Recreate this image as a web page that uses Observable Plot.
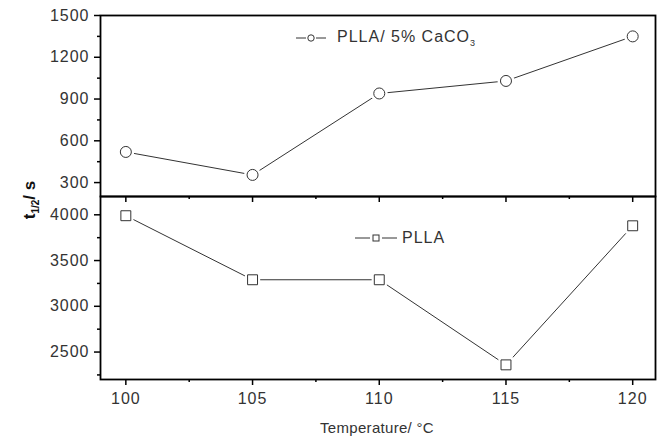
<!DOCTYPE html>
<html><head><meta charset="utf-8">
<script src="https://cdn.jsdelivr.net/npm/d3@7"></script>
<script src="https://cdn.jsdelivr.net/npm/@observablehq/plot@0.6"></script>
<style>
body{margin:0;background:#fff;font-family:"Liberation Sans",Arial,sans-serif;}
#wrap{position:relative;width:663px;height:438px;overflow:hidden;background:#fff;}
.panel{position:absolute;left:0;}
.panel svg text{letter-spacing:1px;}
.lbl{position:absolute;color:#333;white-space:nowrap;}
.leg{position:absolute;display:flex;align-items:center;color:#333;font-size:16px;letter-spacing:1px;white-space:nowrap;}
.leg sub{font-size:9px;vertical-align:-4px;}
#ytitle{left:30px;top:200px;transform:translate(-50%,-50%) rotate(-90deg);font-weight:bold;font-size:17px;color:#111;}
#ytitle sub{font-size:10px;font-weight:bold;vertical-align:-4px;}
#xtitle{left:377px;top:427px;transform:translate(-50%,-50%);font-size:15px;letter-spacing:0.3px;}
</style></head>
<body><div id="wrap">
<div class="panel" id="topPanel" style="top:0px"></div>
<div class="panel" id="botPanel" style="top:186px"></div>
<div class="lbl" id="ytitle">t<sub>1/2</sub>/ s</div>
<div class="lbl" id="xtitle">Temperature/ °C</div>
<div class="leg" style="left:295px;top:28px"><svg width="32" height="16"><line x1="1" y1="8" x2="11" y2="8" stroke="#333"/><circle cx="16" cy="8" r="3.2" fill="none" stroke="#333"/><line x1="21" y1="8" x2="31" y2="8" stroke="#333"/></svg><span style="margin-left:10px">PLLA/ 5% CaCO<sub>3</sub></span></div>
<div class="leg" style="left:355px;top:229px"><svg width="42" height="16"><line x1="0" y1="8" x2="15" y2="8" stroke="#333"/><rect x="18" y="5" width="6" height="6" fill="none" stroke="#333"/><line x1="27" y1="8" x2="42" y2="8" stroke="#333"/></svg><span style="margin-left:5px">PLLA</span></div>
</div>
<script>
const temperature = [100, 105, 110, 115, 120];
const pllaCaCO3 = [520, 355, 940, 1030, 1350];
const plla = [3990, 3290, 3290, 2360, 3880];
const xTicks = [100, 105, 110, 115, 120];
const xMinor = [102.5, 107.5, 112.5, 117.5];
const topTicks = [300, 600, 900, 1200, 1500];
const topMinor = [450, 750, 1050, 1350];
const botTicks = [2500, 3000, 3500, 4000];
const botMinor = [2250, 2750, 3250, 3750];

const topData = temperature.map((t, i) => ({t, v: pllaCaCO3[i]}));
const botData = temperature.map((t, i) => ({t, v: plla[i]}));

const common = {
  width: 663, marginLeft: 100, marginRight: 8,
  x: {domain: [99, 120.9]},
  style: {background: "transparent", overflow: "visible", fontFamily: "'Liberation Sans', Arial, sans-serif", fontSize: "16px", color: "#333"}
};
const noLab = () => "";
const plain = d => String(d);

function seriesMarks(data, symbol, r) {
  return [
    Plot.line(data, {x: "t", y: "v", stroke: "#333", strokeWidth: 1}),
    Plot.dot(data, {x: "t", y: "v", r: r + 3, symbol, fill: "white", stroke: null}),
    Plot.dot(data, {x: "t", y: "v", r, symbol, fill: "white", stroke: "#333", strokeWidth: 1})
  ];
}

const topPlot = Plot.plot({
  ...common,
  height: 206, marginTop: 15, marginBottom: 10,
  y: {domain: [200, 1500]},
  marks: [
    ...seriesMarks(topData, "circle", 5.5),
    Plot.axisY(topTicks, {tickSize: 6, tickPadding: 5, tickFormat: plain, strokeWidth: 1.5, stroke: "#000", fill: "#333", label: null}),
    Plot.axisY(topMinor, {tickSize: 3, tickFormat: noLab, strokeWidth: 1.5, stroke: "#000", label: null}),
    Plot.axisX(xTicks, {anchor: "bottom", tickSize: 6, tickFormat: noLab, strokeWidth: 1.5, stroke: "#000", label: null}),
    Plot.axisX(xMinor, {anchor: "bottom", tickSize: 3, tickFormat: noLab, strokeWidth: 1.5, stroke: "#000", label: null}),
    Plot.frame({stroke: "#000", strokeWidth: 1.8})
  ]
});

const botPlot = Plot.plot({
  ...common,
  height: 252, marginTop: 10, marginBottom: 59,
  y: {domain: [2200, 4200]},
  marks: [
    ...seriesMarks(botData, "square", 5.6),
    Plot.axisY(botTicks, {tickSize: 6, tickPadding: 5, tickFormat: plain, strokeWidth: 1.5, stroke: "#000", fill: "#333", label: null}),
    Plot.axisY(botMinor, {tickSize: 3, tickFormat: noLab, strokeWidth: 1.5, stroke: "#000", label: null}),
    Plot.axisX(xTicks, {anchor: "bottom", tickSize: 6, tickPadding: 7, tickFormat: plain, strokeWidth: 1.5, stroke: "#000", fill: "#333", label: null}),
    Plot.axisX(xMinor, {anchor: "bottom", tickSize: 3, tickFormat: noLab, strokeWidth: 1.5, stroke: "#000", label: null}),
    Plot.frame({stroke: "#000", strokeWidth: 1.8})
  ]
});

document.getElementById("topPanel").appendChild(topPlot);
document.getElementById("botPanel").appendChild(botPlot);
</script>
</body></html>
